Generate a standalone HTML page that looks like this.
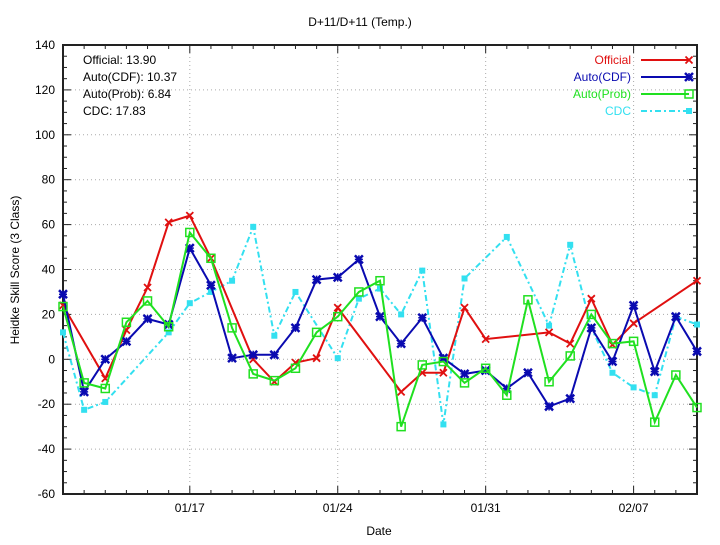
<!DOCTYPE html>
<html><head><meta charset="utf-8"><style>
body{margin:0;background:#fff}
svg text{font-family:"Liberation Sans",sans-serif;font-size:12px;fill:#000}
</style></head><body>
<svg id="c" width="720" height="540" xmlns="http://www.w3.org/2000/svg"></svg>
<script>
const dayLabels=["01/17","01/24","01/31","02/07"];
const dayLabelIdx=[6,13,20,27];
const yTicks=[-60,-40,-20,0,20,40,60,80,100,120,140];
const official=[24,null,-8.5,13,32,61,64,45,null,0,-10,-1.5,0.5,23,null,null,-14.5,-6,-6,23,9,null,null,12,7,27,6.5,16,null,null,35];
const autoCdf=[29,-14.5,0,8,18,15.5,49.5,33,0.5,2,2,14,35.5,36.5,44.5,19,7,18.5,0.5,-6.5,-5,-13,-6,-21,-17.5,14,-1,24,-5.5,19,3.5];
const autoProb=[23.5,-10.5,-13,16.5,26,14.5,56.5,45,14,-6.5,-9.5,-4,12,19,30,35,-30,-2.5,-1,-10.5,-4,-16,26.5,-10,1.5,20,7,8,-28,-7,-21.5];
const cdc=[12,-22.5,-19,null,null,12,25,30,35,59,10.5,30,null,0.5,27,31.5,20,39.5,-29,36,null,54.5,null,15,51,14,-6,-12.5,-16,19,15.5];
const L=63,R=697,T=45,B=494;
const X=d=>L+(R-L)*d/30, Y=v=>T+(B-T)*(140-v)/200;
const svg=document.getElementById('c');const NS='http://www.w3.org/2000/svg';
function mk(tag,at,parent){const e=document.createElementNS(NS,tag);for(const k in at)e.setAttribute(k,at[k]);(parent||svg).appendChild(e);return e;}
yTicks.forEach(v=>{if(v>-60&&v<140){const g=mk('line',{x1:L,x2:R,y1:Y(v),y2:Y(v),stroke:'#aaa','stroke-dasharray':'1,3'});

}});
dayLabelIdx.forEach(d=>{const g=mk('line',{x1:X(d),x2:X(d),y1:T,y2:B,stroke:'#aaa','stroke-dasharray':'1,3'});

});
for(let v=-60;v<=140;v+=5){const big=v%20===0;
mk('line',{x1:L,x2:L+(big?8:4),y1:Y(v),y2:Y(v),stroke:'#222'});mk('line',{x1:R,x2:R-(big?8:4),y1:Y(v),y2:Y(v),stroke:'#222'});}
yTicks.forEach(v=>{const t=mk('text',{x:L-8,y:Y(v)+4,'text-anchor':'end'});t.textContent=v;

});
for(let d=0;d<=30;d++){const big=dayLabelIdx.includes(d);
mk('line',{x1:X(d),x2:X(d),y1:B,y2:B-(big?8:4),stroke:'#222'});mk('line',{x1:X(d),x2:X(d),y1:T,y2:T+(big?8:4),stroke:'#222'});}
dayLabels.forEach((s,i)=>{const t=mk('text',{x:X(dayLabelIdx[i]),y:B+18,'text-anchor':'middle'});t.textContent=s;

});
const fr=mk('rect',{x:L,y:T,width:R-L,height:B-T,fill:'none',stroke:'#222','stroke-width':2});


function marker(g,type,x,y,col){
 if(type==='x'||type==='X'){const s=type==='X'?4:3.5,w=type==='X'?2.5:1.8;
  mk('path',{d:`M${x-s},${y-s}L${x+s},${y+s}M${x-s},${y+s}L${x+s},${y-s}`,stroke:col,'stroke-width':w},g);
  if(type==='X')mk('path',{d:`M${x},${y-s}L${x},${y+s}M${x-s},${y}L${x+s},${y}`,stroke:col,'stroke-width':1.5},g);}
 else if(type==='sq')mk('rect',{x:x-4,y:y-4,width:8,height:8,fill:'none',stroke:col,'stroke-width':1.5},g);
 else mk('rect',{x:x-3,y:y-3,width:6,height:6,fill:col},g);}
function series(data,col,type,dash,name){
 const g=mk('g',{});
 let pts=[];data.forEach((v,i)=>{if(v!==null)pts.push([X(i),Y(v)]);});
 mk('polyline',{points:pts.map(p=>p.join(',')).join(' '),fill:'none',stroke:col,'stroke-width':2,'stroke-dasharray':dash||'none'},g);
 pts.forEach(p=>marker(g,type,p[0],p[1],col));}
series(cdc,'#33e0f0','f','6,3,2,3','series-cdc');
series(official,'#e01010','x',null,'series-official');
series(autoCdf,'#0a0ab0','X',null,'series-auto-cdf');
series(autoProb,'#20e020','sq',null,'series-auto-prob');
const leg=[['Official','#e01010','x',null],['Auto(CDF)','#0a0ab0','X',null],['Auto(Prob)','#20e020','sq',null],['CDC','#33e0f0','f','6,3,2,3']];
leg.forEach((l,i)=>{const y=60+i*17;const g=mk('g',{});


const t=mk('text',{x:631,y:y+4,'text-anchor':'end',style:'fill:'+l[1]},g);t.textContent=l[0];
mk('line',{x1:641,x2:689,y1:y,y2:y,stroke:l[1],'stroke-width':2,'stroke-dasharray':l[3]||'none'},g);marker(g,l[2],689,y,l[1]);});
['Official: 13.90','Auto(CDF): 10.37','Auto(Prob): 6.84','CDC: 17.83'].forEach((s,i)=>{const t=mk('text',{x:83,y:64+i*17});t.textContent=s;

});
let t=mk('text',{x:360,y:26,'text-anchor':'middle'});t.textContent='D+11/D+11 (Temp.)';

t=mk('text',{x:379,y:535,'text-anchor':'middle'});t.textContent='Date';

t=mk('text',{x:19,y:270,'text-anchor':'middle',transform:'rotate(-90 19 270)'});t.textContent='Heidke Skill Score (3 Class)';

</script>
</body></html>
